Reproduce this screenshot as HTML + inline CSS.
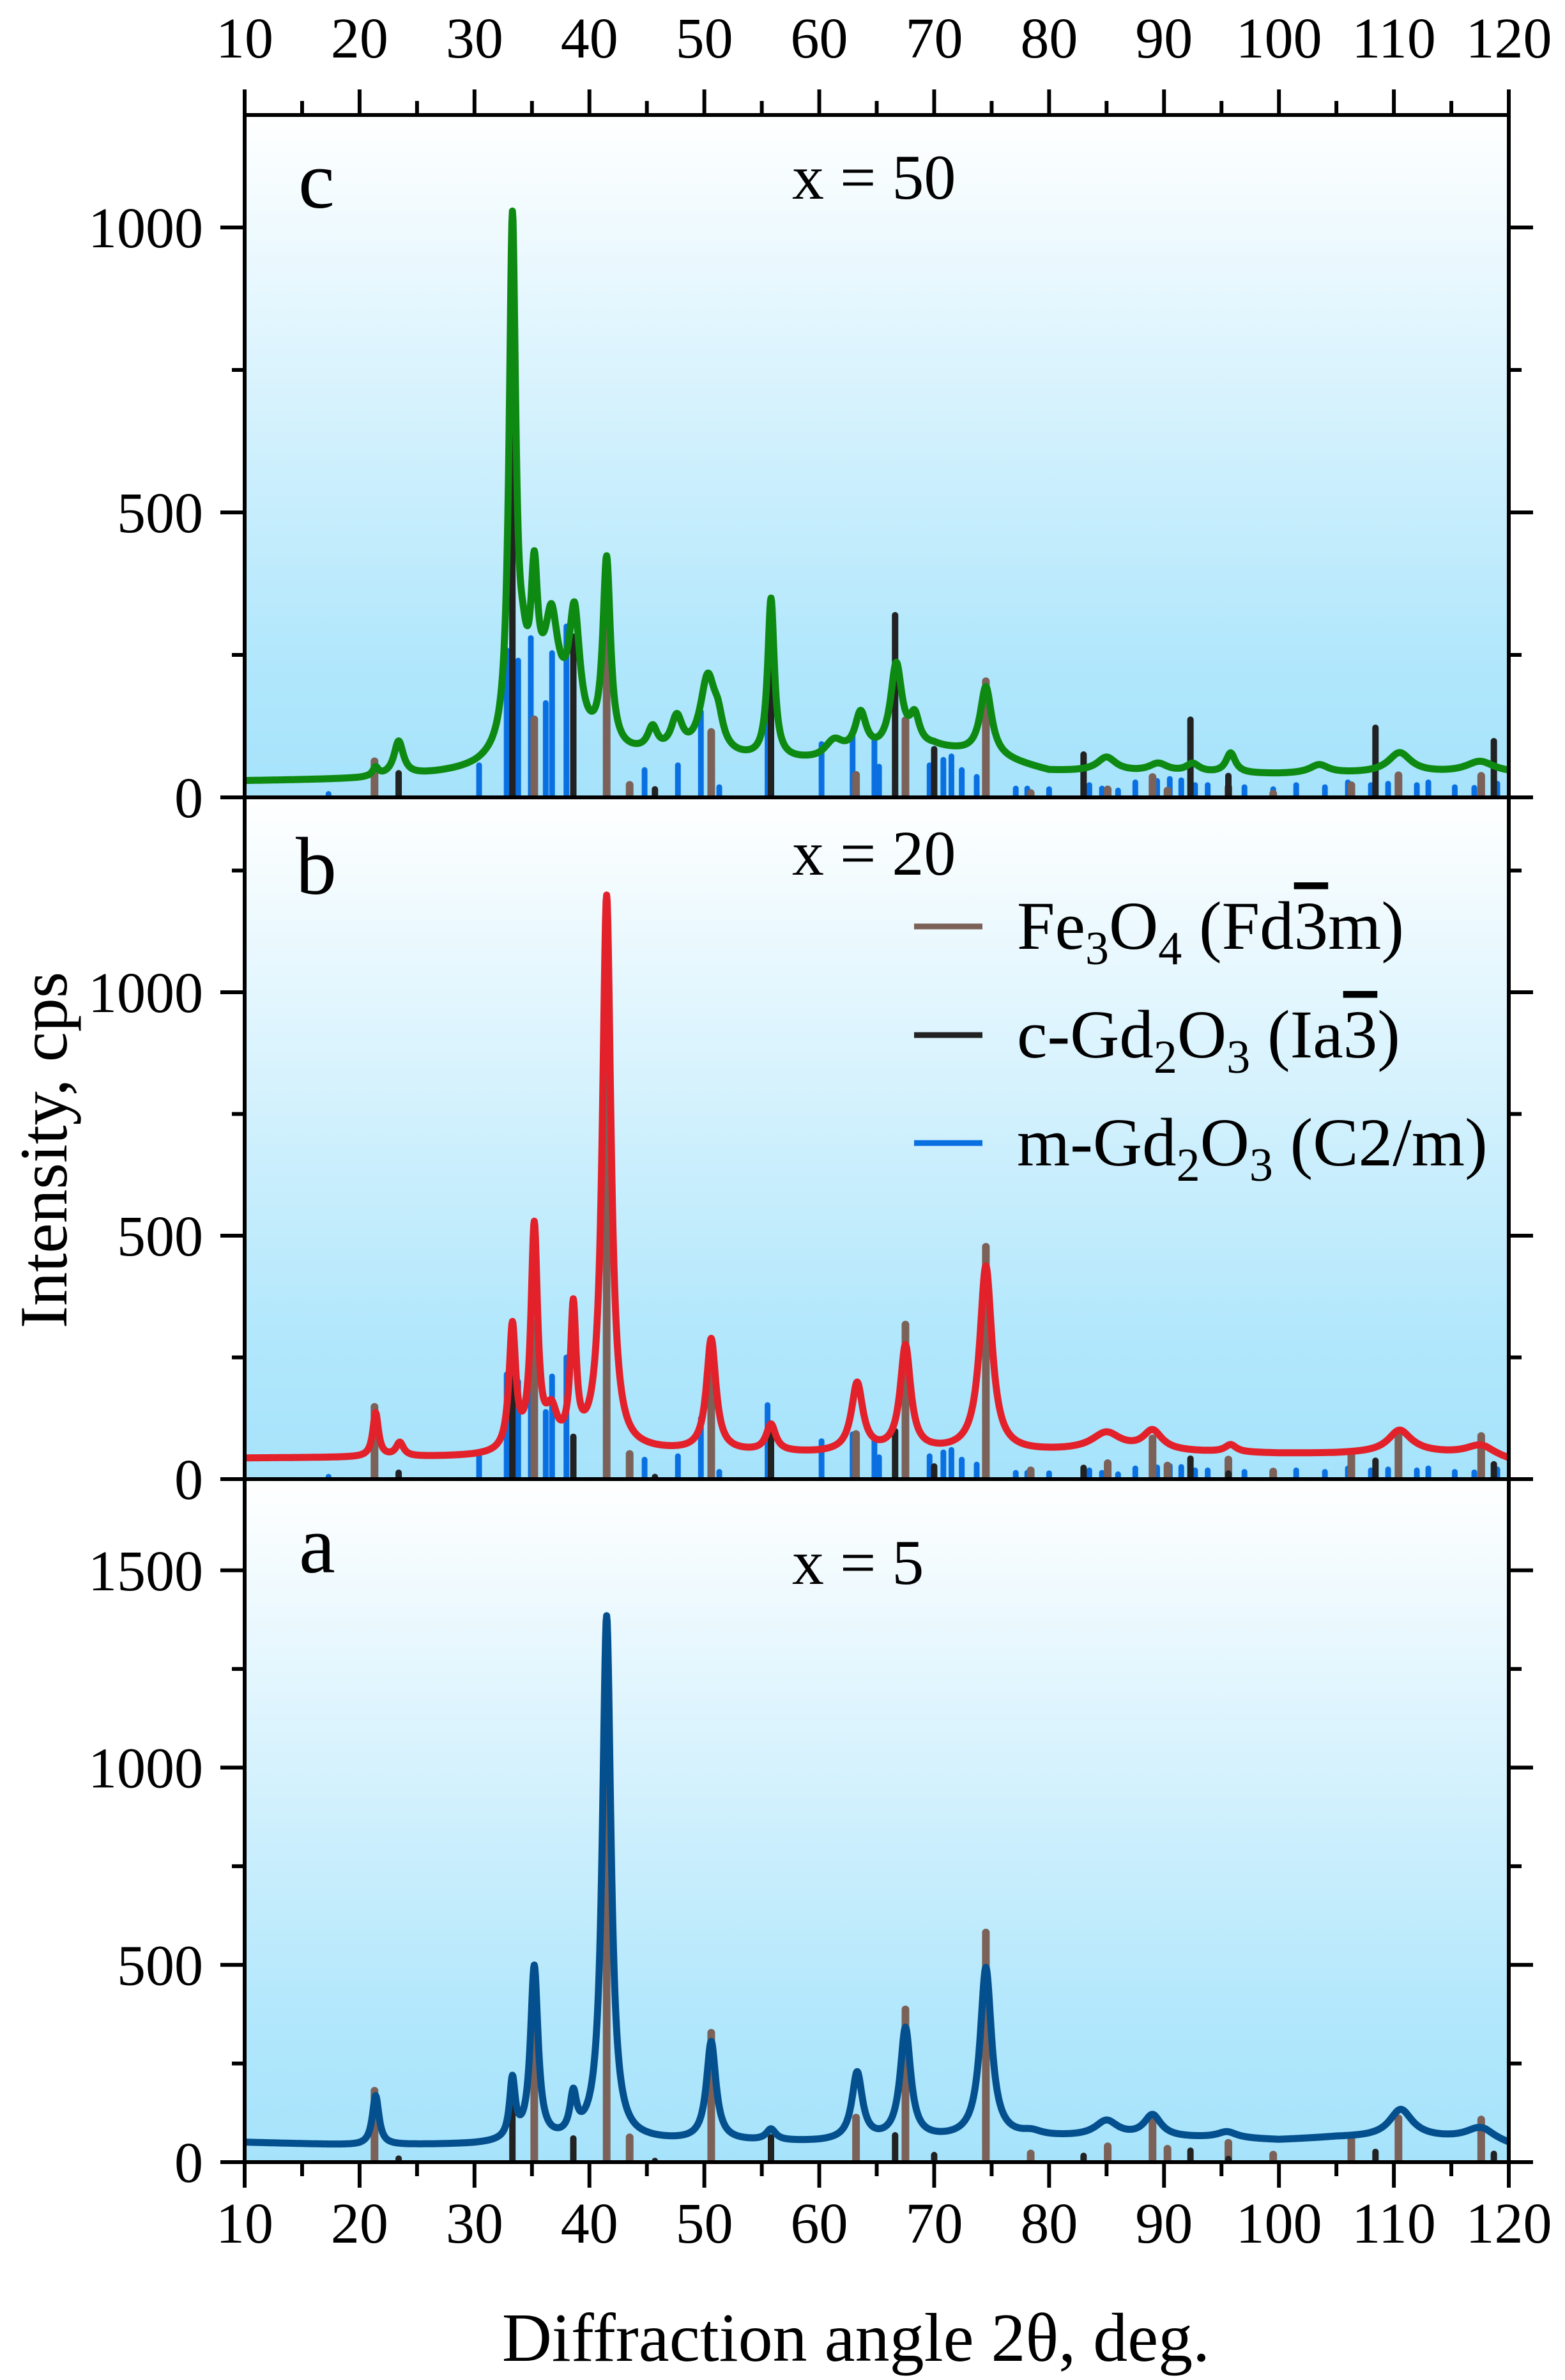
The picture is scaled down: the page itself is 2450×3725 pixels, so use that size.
<!DOCTYPE html>
<html><head><meta charset="utf-8">
<style>
html,body{margin:0;padding:0;background:#fff;}
svg{display:block;font-family:"Liberation Serif",serif;}
</style></head>
<body>
<svg id="chart" width="2450" height="3725" viewBox="0 0 2450 3725" xmlns="http://www.w3.org/2000/svg">
<defs>
<linearGradient id="bg" x1="0" y1="0" x2="0" y2="1">
<stop offset="0" stop-color="#ffffff"/>
<stop offset="0.45" stop-color="#d3f1fd"/>
<stop offset="0.8" stop-color="#b1e7fc"/>
<stop offset="1" stop-color="#a6e3fb"/>
</linearGradient>
</defs>
<g id="layer"></g>
</svg>
<script>
// ---------- data ----------
const xTicks = [10,20,30,40,50,60,70,80,90,100,110,120];
const panelNames = ['c','b','a'];
const panelLabels = ['x = 50','x = 20','x = 5'];
const yTicksC = [0,500,1000];
const yTicksB = [0,500,1000];
const yTicksA = [0,500,1000,1500];

// Fe3O4 reference lines (2θ, relative intensity, as in panel a)
const fePos = [21.3,35.2,41.5,43.5,50.6,63.2,67.5,74.5,78.4,85.1,89.0,90.3,95.6,99.5,106.3,110.4,117.6];
const feInt = [181,391,1174,63,328,113,387,582,22,40,102,34,49,19,61,111,108];
// c-Gd2O3 reference lines
const cgPos = [23.4,33.3,38.6,45.7,55.8,66.6,70.0,83.0,92.3,95.6,108.4,118.7];
const cgInt = [9,165,60,3,63,68,18,16,29,8,26,21];
// m-Gd2O3 reference lines (as in panel b)
const mgPos = [17.3,30.4,32.8,33.8,34.9,36.2,36.75,38.0,44.8,47.7,49.7,51.3,55.5,60.2,62.9,64.8,65.2,69.6,70.8,71.5,72.4,73.7,77.1,78.1,80.0,83.5,84.6,86.0,87.5,89.4,90.5,91.5,92.7,93.8,97.0,99.5,101.5,104.0,106.0,108.0,109.5,112.0,113.0,115.3,117.0,119.0];
const mgInt = [5,47,215,200,233,138,211,250,40,47,125,15,152,78,92,86,45,47,55,60,40,30,13,13,12,18,13,10,22,24,27,25,18,18,15,12,18,15,22,18,20,18,22,15,14,20];
// per-panel scale factors for the reference lines [c, b, a]
const feScale = [0.35,0.82,1.0];
const cgScale = [4.7,1.45,1.0];
const mgScale = [1.2,1.0,0.0];

// measured patterns: baseline knots and peaks
const baseXA = [10,20,30,32,45,60,78,82,95,100,105,112,118,120];
const baseYA = [50,42,44,46,52,50,62,62,60,55,62,62,55,42];
const peakPosA = [21.4,33.3,35.2,38.6,41.5,50.6,55.8,63.3,67.5,74.5,78.5,85.0,89.0,95.5,110.6,117.5];
const peakHtA  = [125,150,440,100,1330,250,28,170,280,430,10,40,55,15,70,30];
const peakWdA  = [0.35,0.3,0.4,0.35,0.45,0.5,0.5,0.55,0.55,0.6,1,1.2,0.9,1,1.2,1.5];

const baseXB = [10,30,32,45,48,60,70,78,84,100,105,112,118,120];
const baseYB = [43,45,46,55,55,52,55,55,58,52,52,55,48,38];
const peakPosB = [21.4,23.5,33.3,35.2,36.7,38.6,41.5,50.6,55.8,63.3,67.5,74.5,85.0,89.0,95.8,110.5,117.5];
const peakHtB  = [90,28,255,455,70,280,1140,230,55,140,215,380,35,40,15,45,20];
const peakWdB  = [0.3,0.4,0.35,0.35,0.6,0.3,0.45,0.5,0.5,0.6,0.55,0.65,1.5,1,0.6,1.2,1.5];

const baseXC = [10,20,30,40,45,60,70,75,80,90,100,110,120];
const baseYC = [28,30,38,55,65,60,85,70,45,42,40,42,42];
const peakPosC = [21.4,23.4,33.3,34.2,35.2,36.5,36.7,38.7,41.5,45.5,47.6,50.3,51.2,55.8,61.3,63.6,66.7,68.3,74.5,85.0,89.5,92.5,95.8,103.5,110.5,117.5];
const peakHtC  = [15,60,910,80,220,130,120,200,330,40,60,135,40,280,30,70,150,50,120,25,15,15,35,15,35,20];
const peakWdC  = [0.3,0.5,0.35,0.5,0.35,2.2,0.6,0.55,0.4,0.5,0.6,0.8,0.5,0.35,1,0.6,0.6,0.5,0.6,1,1,0.7,0.5,1,1.2,1.5];

// ---------- layout ----------
const X0 = 383, X1 = 2362;
const panels = [
  {top:180, zero:1248, k:0.892, ticks:yTicksC, minorMax:1200, color:'#0e8a12',
   bx:baseXC, by:baseYC, pp:peakPosC, ph:peakHtC, pw:peakWdC, lx:467, ly:325, tx:1240, ty:311},
  {top:1248, zero:2315, k:0.762, ticks:yTicksB, minorMax:1400, color:'#e3212b',
   bx:baseXB, by:baseYB, pp:peakPosB, ph:peakHtB, pw:peakWdB, lx:463, ly:1399, tx:1240, ty:1369},
  {top:2315, zero:3384, k:0.6175, ticks:yTicksA, minorMax:1730, color:'#044f8d',
   bx:baseXA, by:baseYA, pp:peakPosA, ph:peakHtA, pw:peakWdA, lx:468, ly:2461, tx:1240, ty:2479}
];
function xs(d){ return X0 + (d-10)*(X1-X0)/110; }

const NS='http://www.w3.org/2000/svg';
const layer=document.getElementById('layer');
function mk(tag, attrs, parent){
  const e=document.createElementNS(NS,tag);
  for(const k in attrs) e.setAttribute(k, attrs[k]);
  (parent||layer).appendChild(e);
  return e;
}
function interp(bx,by,x){
  if(x<=bx[0]) return by[0];
  for(let i=1;i<bx.length;i++){ if(x<=bx[i]){ const t=(x-bx[i-1])/(bx[i]-bx[i-1]); return by[i-1]+t*(by[i]-by[i-1]); } }
  return by[by.length-1];
}

panels.forEach((p,pi)=>{
  const ys = v => p.zero - v*p.k;
  const g = mk('g',{});
  
  
  const bgr = mk('rect',{x:X0,y:p.top,width:X1-X0,height:p.zero-p.top,fill:'url(#bg)'},g);
  
  
  const cp = mk('clipPath',{id:'cp'+pi},g);
  mk('rect',{x:X0,y:p.top,width:X1-X0,height:p.zero-p.top},cp);
  const inner = mk('g',{'clip-path':'url(#cp'+pi+')'},g);
  const drawBars=(pos,ints,scale,color,w,name)=>{
    if(scale<=0) return;
    pos.forEach((d,i)=>{
      const h=ints[i]*scale;
      const b=mk('line',{x1:xs(d),x2:xs(d),y1:p.zero,y2:ys(h),stroke:color,'stroke-width':w,'stroke-linecap':'round'},inner);
      
      
    });
  };
  drawBars(mgPos,mgInt,mgScale[pi],'#0a70e2',9,'m-gd2o3');
  drawBars(fePos,feInt,feScale[pi],'#7b6157',12,'fe3o4');
  drawBars(cgPos,cgInt,cgScale[pi],'#222222',10,'c-gd2o3');
  let d='';
  for(let x=10;x<=120.0001;x+=0.05){
    let v=interp(p.bx,p.by,x);
    for(let j=0;j<p.pp.length;j++){ const u=(x-p.pp[j])/p.pw[j]; v+=p.ph[j]/(1+u*u); }
    d+=(d?'L':'M')+xs(x).toFixed(1)+','+ys(v).toFixed(1);
  }
  const c=mk('path',{d:d,fill:'none',stroke:p.color,'stroke-width':11,'stroke-linejoin':'round'},inner);
  
  
  const fr=mk('rect',{x:X0,y:p.top,width:X1-X0,height:p.zero-p.top,fill:'none',stroke:'#000','stroke-width':6},g);
  
  
  for(let t=10;t<=120;t+=5){
    const maj=(t%10===0);
    mk('line',{x1:xs(t),x2:xs(t),y1:p.zero,y2:p.zero+(maj?40:22),stroke:'#000','stroke-width':6},g);
  }
  for(let v=0; v<=p.minorMax; v+=250){
    const maj=(v%500===0);
    const y=ys(v);
    mk('line',{x1:X0,x2:X0-(maj?38:20),y1:y,y2:y,stroke:'#000','stroke-width':6},g);
    mk('line',{x1:X1,x2:X1+(maj?38:20),y1:y,y2:y,stroke:'#000','stroke-width':6},g);
  }
  p.ticks.forEach(v=>{
    const t=mk('text',{x:318,y:ys(v)+31,'font-size':90,'text-anchor':'end',fill:'#000'},g);
    t.textContent=v;
    
    
  });
  const L=mk('text',{x:p.lx,y:p.ly,'font-size':128,fill:'#000'},g);
  L.textContent=panelNames[pi];
  
  
  const T=mk('text',{x:p.tx,y:p.ty,'font-size':100,fill:'#000'},g);
  T.textContent=panelLabels[pi];
  
  
});

for(let t=10;t<=120;t+=5){
  const maj=(t%10===0);
  mk('line',{x1:xs(t),x2:xs(t),y1:180,y2:180-(maj?40:22),stroke:'#000','stroke-width':6});
}
xTicks.forEach(t=>{
  const a=mk('text',{x:xs(t),y:90,'font-size':90,'text-anchor':'middle',fill:'#000'});
  a.textContent=t;
  
  
  const b=mk('text',{x:xs(t),y:3510,'font-size':90,'text-anchor':'middle',fill:'#000'});
  b.textContent=t;
  
  
});
</script>
<script>
(function(){
  const NS='http://www.w3.org/2000/svg';
  const layer=document.getElementById('layer');
  const xt=document.createElementNS(NS,'text');
  xt.setAttribute('x',1340);xt.setAttribute('y',3695);xt.setAttribute('font-size',108);xt.setAttribute('text-anchor','middle');
  xt.textContent='Diffraction angle 2θ, deg.';
  
  
  layer.appendChild(xt);
  const yt=document.createElementNS(NS,'text');
  yt.setAttribute('transform','translate(104,1800) rotate(-90)');yt.setAttribute('font-size',106);yt.setAttribute('text-anchor','middle');
  yt.textContent='Intensity, cps';
  
  
  layer.appendChild(yt);
})();
</script>
<svg style="position:absolute;left:0;top:0" width="2450" height="3725">
  <g font-family="Liberation Serif, serif" font-size="107" fill="#000">
    <line x1="1431" x2="1538" y1="1450" y2="1450" stroke="#7b6157" stroke-width="9"/>
    <text x="1592" y="1485">Fe<tspan font-size="74" dy="24">3</tspan><tspan dy="-24">O</tspan><tspan font-size="74" dy="24">4</tspan><tspan dy="-24"> (Fd</tspan><tspan text-decoration="overline" style="text-decoration-thickness:4px">3</tspan><tspan>m)</tspan></text>
    <line x1="1431" x2="1538" y1="1620" y2="1620" stroke="#222" stroke-width="9"/>
    <text x="1592" y="1655">c-Gd<tspan font-size="74" dy="24">2</tspan><tspan dy="-24">O</tspan><tspan font-size="74" dy="24">3</tspan><tspan dy="-24"> (Ia</tspan><tspan text-decoration="overline" style="text-decoration-thickness:4px">3</tspan><tspan>)</tspan></text>
    <line x1="1431" x2="1538" y1="1789" y2="1789" stroke="#0a70e2" stroke-width="9"/>
    <text x="1592" y="1824">m-Gd<tspan font-size="74" dy="24">2</tspan><tspan dy="-24">O</tspan><tspan font-size="74" dy="24">3</tspan><tspan dy="-24"> (C2/m)</tspan></text>
  </g>
</svg>
</body></html>
